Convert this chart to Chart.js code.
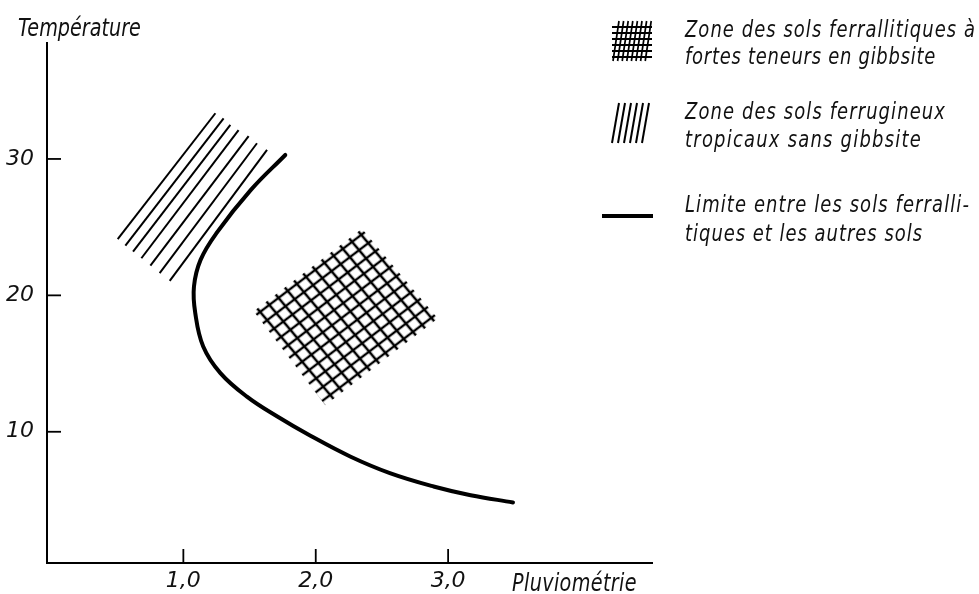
<!DOCTYPE html>
<html>
<head>
<meta charset="utf-8">
<script src="https://cdn.jsdelivr.net/npm/chart.js@4.4.1/dist/chart.umd.min.js"></script>
<style>
html,body{margin:0;padding:0;background:#fff;}
#wrap{width:979px;height:594px;position:relative;}
canvas{display:block;}
</style>
</head>
<body>
<div id="wrap"><canvas id="c" width="979" height="594"></canvas></div>
<script>
// ---------- data ----------
const xTickValues = [1, 2, 3];
const xTickLabels = ['1,0', '2,0', '3,0'];
const yTickValues = [10, 20, 30];
const yTickLabels = ['10', '20', '30'];

// Limite entre les sols ferrallitiques et les autres sols
const limitX = [1.77, 1.51, 1.25, 1.13, 1.08, 1.09, 1.15, 1.28, 1.48, 1.71, 1.96, 2.26, 2.56, 2.89, 3.17, 3.49];
const limitY = [30.29, 27.73, 24.56, 22.60, 20.64, 18.70, 16.25, 14.30, 12.58, 11.12, 9.71, 8.19, 6.97, 5.99, 5.35, 4.82];

// Zone des sols ferrugineux tropicaux sans gibbsite (hatch strokes)
const ferruTopX = [1.242, 1.304, 1.355, 1.417, 1.493, 1.556, 1.632];
const ferruTopY = [33.35, 32.98, 32.49, 32.12, 31.68, 31.15, 30.66];
const ferruBottomX = [0.504, 0.562, 0.620, 0.683, 0.751, 0.821, 0.897];
const ferruBottomY = [24.12, 23.65, 23.21, 22.72, 22.18, 21.63, 21.06];

// Zone des sols ferrallitiques à fortes teneurs en gibbsite (corners: left, top, right, bottom)
const gibbsiteX = [1.531, 2.349, 2.922, 2.072];
const gibbsiteY = [18.84, 24.89, 18.30, 11.95];

const legendLines = [
  'Zone des sols ferrallitiques à',
  'fortes teneurs en gibbsite',
  'Zone des sols ferrugineux',
  'tropicaux sans gibbsite',
  'Limite entre les sols ferralli-',
  'tiques et les autres sols'
];
const xTitle = 'Pluviométrie';
const yTitle = 'Température';

// ---------- rendering ----------
const FONT = '"DejaVu Sans", "Liberation Sans", sans-serif';
const canvas = document.getElementById('c');
const mainCtx = canvas.getContext('2d');

const N = 12;
const tile = document.createElement('canvas');
tile.width = N; tile.height = N;
const tctx = tile.getContext('2d');
tctx.fillStyle = '#000';
tctx.fillRect(N / 2 - 1.3, 0, 2.6, N);
tctx.fillRect(0, N / 2 - 1.3, N, 2.6);
const gridPattern = mainCtx.createPattern(tile, 'repeat');

const datasets = [];
ferruTopX.forEach((_, i) => {
  datasets.push({
    label: 'ferrugineux ' + i,
    data: [{x: ferruTopX[i], y: ferruTopY[i]}, {x: ferruBottomX[i], y: ferruBottomY[i]}],
    showLine: true, borderColor: '#000', borderWidth: 2, pointRadius: 0, fill: false
  });
});
datasets.push({
  label: 'Limite',
  data: limitX.map((x, i) => ({x, y: limitY[i]})),
  showLine: true, borderColor: '#000', borderWidth: 4, pointRadius: 0, tension: 0.4,
  borderCapStyle: 'round', fill: false
});
datasets.push({
  label: 'gibbsite',
  data: gibbsiteX.map((x, i) => ({x, y: gibbsiteY[i]})),
  showLine: true, borderWidth: 0, borderColor: 'rgba(0,0,0,0)', pointRadius: 0,
  backgroundColor: gridPattern, fill: 'shape'
});

// draws italic text with narrowed glyphs and extra letter spacing so that it spans `target` px
function drawSpacedText(ctx, str, x, yBase, size, sx, target) {
  ctx.save();
  ctx.font = 'italic ' + size + 'px ' + FONT;
  ctx.textBaseline = 'alphabetic';
  ctx.textAlign = 'left';
  ctx.fillStyle = '#111';
  const w0 = ctx.measureText(str).width;
  let ls = (target / sx - w0) / str.length;
  if ('letterSpacing' in ctx) {
    ctx.letterSpacing = Math.max(0, ls) + 'px';
  } else {
    sx = target / w0;
  }
  ctx.translate(x, yBase);
  ctx.scale(sx, 1);
  ctx.fillText(str, 0, 0);
  ctx.restore();
}

const decorPlugin = {
  id: 'decor',
  beforeDraw(chart) {
    const xs = chart.scales.x, ys = chart.scales.y;
    const P = gibbsiteX.map((x, i) => ({x: xs.getPixelForValue(x), y: ys.getPixelForValue(gibbsiteY[i])}));
    const L = P[0], T = P[1], R = P[2];
    const lu = Math.hypot(T.x - L.x, T.y - L.y);
    const u = {x: (T.x - L.x) / lu, y: (T.y - L.y) / lu};
    const lv = Math.hypot(R.x - T.x, R.y - T.y);
    const v = {x: (R.x - T.x) / lv, y: (R.y - T.y) / lv};
    const stub = 4.5, nU = 12, nV = 11;
    const su = (lu - 2 * stub) / (nU - 1), sv = (lv - 2 * stub) / (nV - 1);
    const a = u.x * su / N, b = u.y * su / N, c = v.x * sv / N, d = v.y * sv / N;
    const ox = L.x + stub * (u.x + v.x), oy = L.y + stub * (u.y + v.y);
    const e = ox - (N / 2) * (a + c), f = oy - (N / 2) * (b + d);
    gridPattern.setTransform(new DOMMatrix([a, b, c, d, e, f]));
  },
  afterDraw(chart) {
    const ctx = chart.ctx;
    const xs = chart.scales.x, ys = chart.scales.y;
    const area = chart.chartArea;
    ctx.save();
    ctx.strokeStyle = '#000';
    ctx.lineCap = 'butt';
    // inner tick marks
    ctx.lineWidth = 1.8;
    xTickValues.forEach(v => {
      const px = xs.getPixelForValue(v);
      ctx.beginPath(); ctx.moveTo(px, area.bottom); ctx.lineTo(px, area.bottom - 14); ctx.stroke();
    });
    yTickValues.forEach(v => {
      const py = ys.getPixelForValue(v);
      ctx.beginPath(); ctx.moveTo(area.left, py); ctx.lineTo(area.left + 14, py); ctx.stroke();
    });

    // legend icons
    ctx.lineWidth = 2;
    const hy = [27, 33, 39, 45, 51, 57];
    hy.forEach(y => { ctx.beginPath(); ctx.moveTo(612, y); ctx.lineTo(652, y); ctx.stroke(); });
    ctx.lineWidth = 1.7;
    for (let i = 0; i < 8; i++) {
      ctx.beginPath(); ctx.moveTo(619 + 4.6 * i, 21); ctx.lineTo(613 + 4.6 * i, 61); ctx.stroke();
    }
    ctx.lineWidth = 2;
    for (let i = 0; i < 6; i++) {
      ctx.beginPath(); ctx.moveTo(619 + 6 * i, 103); ctx.lineTo(612 + 6 * i, 143); ctx.stroke();
    }
    ctx.lineWidth = 4;
    ctx.beginPath(); ctx.moveTo(602, 216); ctx.lineTo(653, 216); ctx.stroke();
    ctx.restore();

    // axis titles
    drawSpacedText(ctx, yTitle, 18, 36, 24, 0.8, 122);
    drawSpacedText(ctx, xTitle, 512, 591, 24, 0.8, 125);

    // legend texts
    const baselines = [37, 64, 119, 147, 212, 241];
    const targets = [291, 251, 261, 237, 285, 238];
    legendLines.forEach((t, i) => drawSpacedText(ctx, t, 685, baselines[i], 23, 0.78, targets[i]));
  }
};

new Chart(canvas, {
  type: 'scatter',
  data: {datasets},
  options: {
    responsive: false,
    animation: false,
    events: [],
    layout: {padding: {left: 0, top: 43, right: 327, bottom: 0}},
    plugins: {legend: {display: false}, tooltip: {enabled: false}, title: {display: false}},
    scales: {
      x: {
        type: 'linear', min: -0.03, max: 4.54,
        grid: {display: false, drawTicks: false},
        border: {display: true, color: '#000', width: 2},
        afterFit: s => { s.height = 31; },
        afterBuildTicks: s => { s.ticks = xTickValues.map(v => ({value: v})); },
        ticks: {
          color: '#111', padding: 5,
          font: {family: FONT, style: 'italic', size: 22},
          callback: v => xTickLabels[xTickValues.indexOf(v)]
        }
      },
      y: {
        type: 'linear', min: 0.38, max: 38.5,
        grid: {display: false, drawTicks: false},
        border: {display: true, color: '#000', width: 2},
        afterFit: s => { s.width = 47; },
        afterBuildTicks: s => { s.ticks = yTickValues.map(v => ({value: v})); },
        ticks: {
          color: '#111', padding: 13,
          font: {family: FONT, style: 'italic', size: 22},
          callback: v => yTickLabels[yTickValues.indexOf(v)]
        }
      }
    }
  },
  plugins: [decorPlugin]
});
</script>
</body>
</html>
